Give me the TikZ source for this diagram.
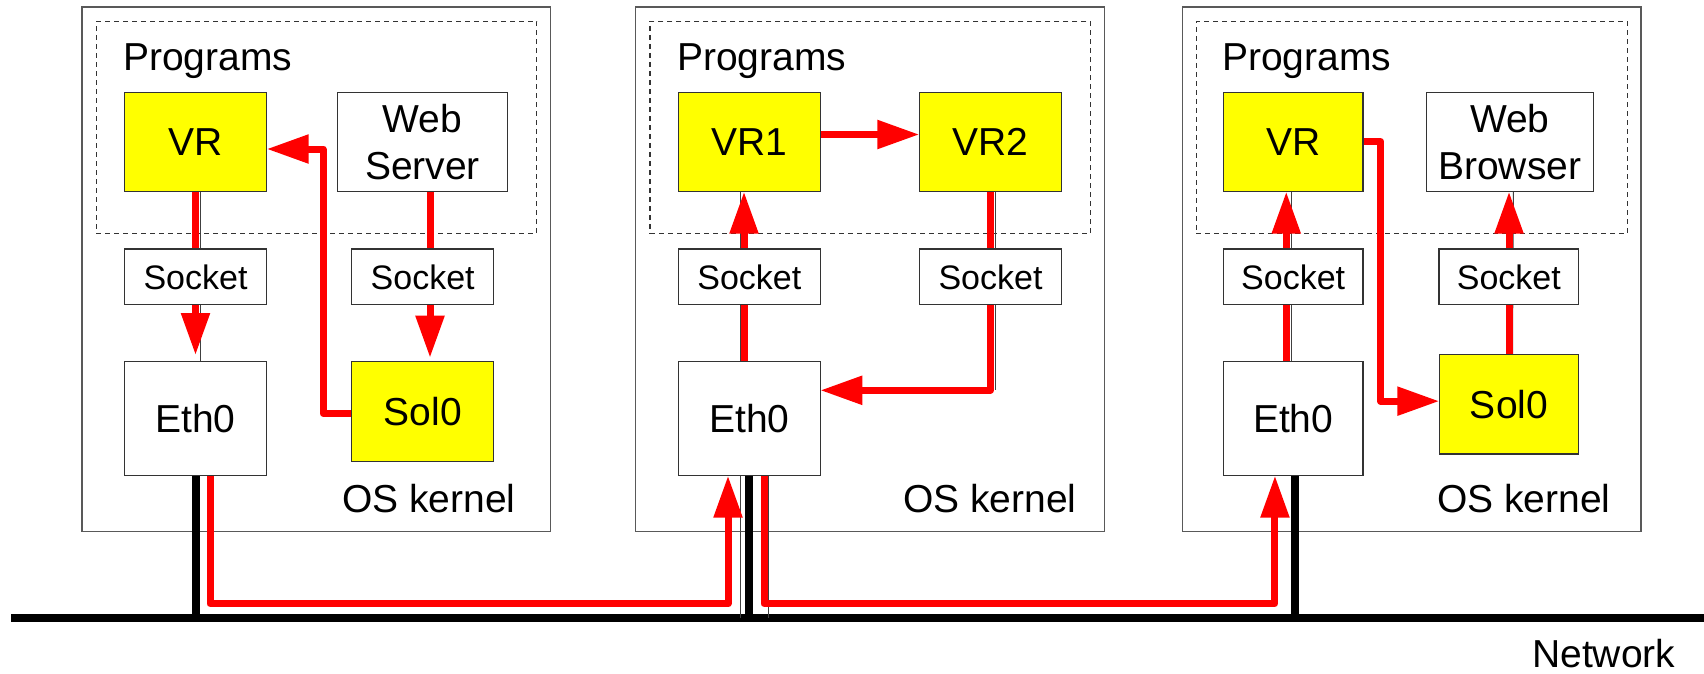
\documentclass[tikz,border=0pt]{standalone}
\usepackage{fontspec}
\setmainfont{Liberation Sans}
\usetikzlibrary{arrows.meta}
\definecolor{boxyellow}{RGB}{255,255,0}
\definecolor{pathred}{RGB}{255,0,0}
\pgfdeclarelayer{bg}
\pgfsetlayers{bg,main}
\begin{document}
\begin{tikzpicture}[x=1pt,y=-1pt,
  osbox/.style={draw=black!65, line width=1.3pt, rectangle, anchor=north west, inner sep=0pt, outer sep=0pt},
  progbox/.style={draw=black!80, line width=1.2pt, dash pattern=on 5pt off 4pt, rectangle, anchor=north west, inner sep=0pt, outer sep=0pt},
  blk/.style={draw=black!80, line width=1.5pt, fill=white, rectangle, anchor=north west, inner sep=0pt, outer sep=0pt, align=center, font=\fontsize{39pt}{46.7pt}\selectfont},
  ylw/.style={blk, fill=boxyellow},
  sock/.style={blk, font=\fontsize{34pt}{40pt}\selectfont},
  lbl/.style={anchor=base west, inner sep=0pt, font=\fontsize{39pt}{46.7pt}\selectfont},
  redline/.style={draw=pathred, line width=7pt, line join=round},
  redarrow/.style={redline, -{Triangle[length=42pt,width=27.5pt]}},
  netline/.style={draw=black, line width=8pt},
  hairline/.style={draw=black!75, line width=1pt},
]
\useasboundingbox (0,0) rectangle (1704,673);

% ---------- inner nodes (main layer) ----------
% host 1
\node[ylw,  minimum width=142.4pt, minimum height=99.4pt]  (vra)   at (124.3,92.3) {VR};
\node[blk,  minimum width=170.4pt, minimum height=99.4pt]  (ws)    at (337.3,92.3) {Web\\Server};
\node[sock, minimum width=142.4pt, minimum height=55.7pt]  (socka) at (124.3,249) {Socket};
\node[sock, minimum width=142pt,   minimum height=55.7pt]  (sockb) at (351.7,249) {Socket};
\node[blk,  minimum width=142.4pt, minimum height=114pt]   (etha)  at (124.3,361.7) {Eth0};
\node[ylw,  minimum width=142pt,   minimum height=99.6pt]  (sola)  at (351.7,361.7) {Sol0};
% host 2
\node[ylw,  minimum width=142pt,   minimum height=99.4pt]  (vr1)   at (678.3,92.3) {VR1};
\node[ylw,  minimum width=142.4pt, minimum height=99.4pt]  (vr2)   at (919.3,92.3) {VR2};
\node[sock, minimum width=142pt,   minimum height=55.7pt]  (sockc) at (678.3,249) {Socket};
\node[sock, minimum width=142.4pt, minimum height=55.7pt]  (sockd) at (919.3,249) {Socket};
\node[blk,  minimum width=142pt,   minimum height=114pt]   (ethb)  at (678.3,361.7) {Eth0};
% host 3
\node[ylw,  minimum width=139.7pt, minimum height=99.4pt]  (vrc)   at (1223.3,92.3) {VR};
\node[blk,  minimum width=167pt,   minimum height=99.4pt]  (wb)    at (1426.3,92.3) {Web\\Browser};
\node[sock, minimum width=139.7pt, minimum height=55.7pt]  (socke) at (1223.3,249) {Socket};
\node[sock, minimum width=139.7pt, minimum height=55.7pt]  (sockf) at (1439,249) {Socket};
\node[blk,  minimum width=139.7pt, minimum height=114pt]   (ethc)  at (1223.3,361.7) {Eth0};
\node[ylw,  minimum width=139.4pt, minimum height=99.7pt]  (solc)  at (1439.3,354.3) {Sol0};

% labels
\node[lbl] (prog1) at (123,70) {Programs};
\node[lbl] (prog2) at (677,70) {Programs};
\node[lbl] (prog3) at (1222,70) {Programs};
\node[lbl] (ker1) at (342,512.7) {OS kernel};
\node[lbl] (ker2) at (903,512.7) {OS kernel};
\node[lbl] (ker3) at (1437,512.7) {OS kernel};
\node[lbl] (netlbl) at (1532,667) {Network};

\begin{pgfonlayer}{bg}
% outer boxes
\node[osbox, minimum width=468.7pt, minimum height=524.7pt] (os1) at (82,7) {};
\node[osbox, minimum width=468.6pt, minimum height=524.7pt] (os2) at (635.7,7) {};
\node[osbox, minimum width=458.7pt, minimum height=524.7pt] (os3) at (1182.3,7) {};
\node[progbox, minimum width=440.4pt, minimum height=212.4pt] (pg1) at (96.3,21.3) {};
\node[progbox, minimum width=440.5pt, minimum height=212.4pt] (pg2) at (650,21.3) {};
\node[progbox, minimum width=431pt,   minimum height=212.4pt] (pg3) at (1196.3,21.3) {};

% network
\coordinate (netL) at (11,618);
\coordinate (netR) at (1704,618);
\draw[netline] (netL) -- (netR);
\draw[netline] (etha.south) -- (etha.south |- netL);
\draw[netline] (ethb.south) -- (ethb.south |- netL);
\draw[netline] ([xshift=2pt]ethc.south) -- ([xshift=2pt]ethc.south |- netL);

% thin original connectors
\draw[hairline] ([xshift=4.5pt]vra.south) -- ([xshift=4.5pt]etha.north);
\draw[hairline] ([xshift=-9pt]vr1.south) -- ([xshift=-9pt]ethb.north);
\draw[hairline] ([xshift=4.5pt]vr2.south) -- ++(0,198);
\draw[hairline] ([xshift=-9.3pt]ethb.south) -- ([xshift=-9.3pt]ethb.south |- netL);
\draw[hairline] ([xshift=19pt]ethb.south) -- ([xshift=19pt]ethb.south |- netL);
\draw[hairline] ([xshift=-1.5pt]vrc.south) -- ([xshift=-1.5pt]ethc.north);
\draw[hairline] ([xshift=3.5pt]wb.south) -- ([xshift=3.5pt]solc.north);

% red data paths, host 1
\draw[redarrow, shorten >=6.7pt] (vra.south) -- (etha.north);
\draw[redarrow, shorten >=4pt] ([xshift=7.5pt]ws.south) -- ([xshift=7.5pt]ws.south |- sola.north);
\draw[redarrow] ([yshift=-2pt]sola.west) -- ++(-28.7,0) |- ([yshift=-7pt]vra.east);
\draw[redarrow] ([xshift=14.5pt]etha.south) -- ++(0,128) -| ([xshift=-21.3pt]ethb.south);
% host 2
\draw[redarrow] ([xshift=-5.3pt]ethb.north) -- ([xshift=-5.3pt]vr1.south);
\draw[redarrow] ([yshift=7.5pt]vr1.east) -- ([yshift=7.5pt]vr2.west);
\draw[redarrow] (vr2.south) |- ([yshift=28.4pt]ethb.east);
\draw[redarrow] ([xshift=14.7pt]ethb.south) -- ++(0,128) -| ([xshift=-18.2pt]ethc.south);
% host 3
\draw[redarrow] ([xshift=-6.9pt]ethc.north) -- ([xshift=-6.9pt]vrc.south);
\draw[redarrow] ([yshift=0.5pt]vrc.east) -- ++(17.7,0) |- ([yshift=3pt]solc.west);
\draw[redarrow] (solc.north) -- (solc.north |- wb.south);
\end{pgfonlayer}
\end{tikzpicture}
\end{document}
